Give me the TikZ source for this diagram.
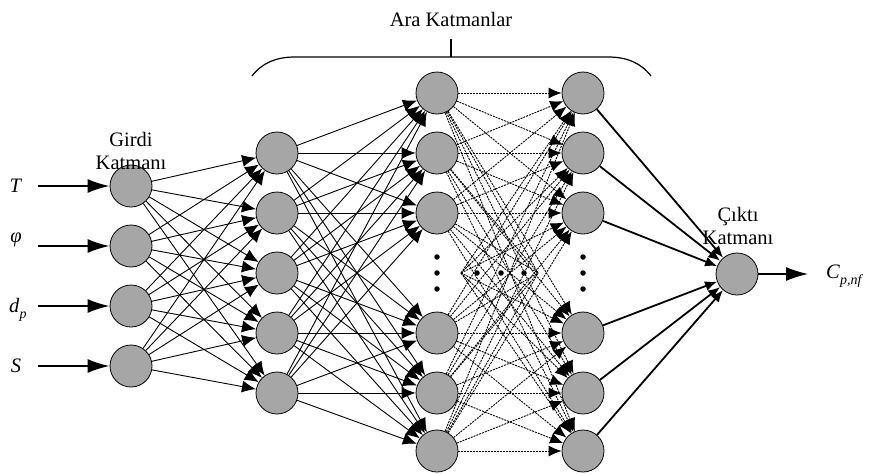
\documentclass[tikz,border=0pt]{standalone}
\usepackage{fontspec}
\setmainfont{Liberation Serif}
\usetikzlibrary{arrows.meta}
\begin{document}
\begin{tikzpicture}[x=1pt,y=-1pt,
 neuron/.style={circle,draw,fill=gray!70,minimum size=42pt,inner sep=0pt,line width=0.8pt},
 lbl/.style={font=\fontsize{20.5}{21}\selectfont,align=center,inner sep=0pt},
 conn/.style={line width=0.9pt,-{Latex[length=14pt,width=12pt]}},
 dconn/.style={line width=0.9pt,dash pattern=on 2pt off 1pt,-{Latex[length=13pt,width=11pt]}},
 dline/.style={line width=0.9pt,dash pattern=on 2pt off 1pt},
 outconn/.style={line width=1.8pt,-{Latex[length=12pt,width=10pt]}},
 inarrow/.style={line width=2pt,-{Latex[length=22pt,width=14pt]}},
 dotm/.style={circle,fill,inner sep=0pt,minimum size=5.5pt}]
\useasboundingbox (0,0) rectangle (872,474);
% input layer
\foreach \i/\y in {1/186,2/246,3/306,4/366} \node[neuron] (I\i) at (131,\y) {};
% hidden 1
\foreach \i/\y in {1/153,2/213,3/273,4/333,5/393} \node[neuron] (A\i) at (277,\y) {};
% hidden 2 and 3
\foreach \i/\y in {1/93,2/153,3/213,4/333,5/393,6/451} {
  \node[neuron] (B\i) at (437,\y) {};
  \node[neuron] (C\i) at (583,\y) {};
}
% output
\node[neuron] (O) at (737,274) {};
% dots
\foreach \y in {257,273,289} {
  \node[dotm] (bd\y) at (437,\y) {};
  \node[dotm] (cd\y) at (583,\y) {};
}
\foreach \x in {477,501,524} \node[dotm] (md\x) at (\x,273) {};
\coordinate (bdot) at (461,273);
\coordinate (cdot) at (538,273);
% inputs
\foreach \i/\y in {1/186,2/246,3/306,4/366} {
  \coordinate (in\i) at (38,\y);
  \draw[inarrow] (in\i) -- (I\i);
}
\node[lbl] (lT) at (16,186) {\textit{T}};
\node[lbl] (lphi) at (16,240) {\textit{φ}};
\node[lbl,anchor=base west] (ld) at (9,312) {\textit{d}\raisebox{-0.3em}{\fontsize{14}{14}\selectfont\textit{p}}};
\node[lbl] (lS) at (16,366) {\textit{S}};
% connections
\foreach \i in {1,...,4} \foreach \j in {1,...,5} \draw[conn] (I\i) -- (A\j);
\foreach \i in {1,...,5} \foreach \j in {1,...,6} \draw[conn] (A\i) -- (B\j);
\foreach \i in {1,...,6} {
  \foreach \j in {1,...,6} \draw[dconn] (B\i) -- (C\j);
  \draw[dconn] (bdot) -- (C\i);
  \draw[dline] (B\i) -- (cdot);
  \draw[outconn] (C\i) -- (O);
}
% output arrow
\coordinate (outE) at (808,274);
\draw[line width=1.2pt,-{Latex[length=22pt,width=14pt]}] (O) -- (outE);
\node[lbl,anchor=west] (lC) at (826,276) {\textit{C}\raisebox{-0.3em}{\fontsize{14}{14}\selectfont\textit{p,nf}}};
% layer labels
\node[lbl] (gk) at (131,151) {Girdi\\[2pt]Katmanı};
\node[lbl] (ck) at (738,226) {Çıktı\\[2pt]Katmanı};
\node[lbl] (ak) at (451,19) {Ara Katmanlar};
% brace
\coordinate (br1) at (252,76);
\coordinate (br2) at (295,57);
\coordinate (br3) at (608,57);
\coordinate (br4) at (651,76);
\coordinate (brm) at (451,57);
\coordinate (brt) at (451,39);
\draw[line width=1.2pt] (br1) .. controls (262,63) and (276,57) .. (br2) -- (br3) .. controls (627,57) and (641,63) .. (br4);
\draw[line width=1.2pt] (brm) -- (brt);
\end{tikzpicture}
\end{document}
